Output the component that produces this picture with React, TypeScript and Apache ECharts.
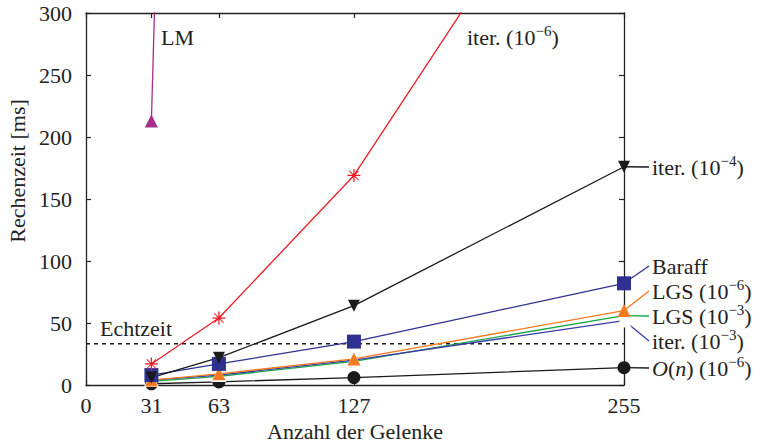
import React, { useEffect, useRef } from "react";
import * as echarts from "echarts";

// ---- data ----
const xTicks = [0, 31, 63, 127, 255];
const joints = [31, 63, 127, 255];
const lmJoints = [31, 63];
const lmValues = [213, 2150];
const iter6Values = [17, 54, 169, 500];
const iter4Values = [6, 22, 64, 176];
const baraffValues = [8, 17, 35, 82];
const lgs6Values = [4, 9, 21, 60];
const lgs3Values = [3, 7, 19, 56];
const iter3Values = [4, 8, 20, 52];
const onValues = [1, 2.5, 6, 14];
const realtimeValue = 33.3;

const FONT = "Liberation Serif";
const TXT = "#222";
const FS = 22;

const C_LM = "#a3318a";
const C_RED = "#ec1c24";
const C_BLACK = "#1a1a1a";
const C_BARAFF = "#2e3192";
const C_ORANGE = "#f47b20";
const C_GREEN = "#1aa64a";
const C_BLUE = "#3a3aa8";

const ASTERISK =
  "path://M-1,-0.1L1,-0.1L1,0.1L-1,0.1Z M-0.1,-1L0.1,-1L0.1,1L-0.1,1Z M-0.76,-0.66L-0.66,-0.76L0.76,0.66L0.66,0.76Z M-0.66,0.76L-0.76,0.66L0.66,-0.76L0.76,-0.66Z";

const zip = (xs: number[], ys: number[]) => xs.map((x, i) => [x, ys[i]]);

const rich = {
  sup: { fontSize: 15, fontFamily: FONT, fill: TXT, verticalAlign: "top", lineHeight: 15 },
  it: { fontSize: FS, fontFamily: FONT, fill: TXT, fontStyle: "italic", lineHeight: 28 },
};

export default function App() {
  const ref = useRef<HTMLDivElement>(null);
  useEffect(() => {
    if (!ref.current) return;
    const chart = echarts.init(ref.current, undefined, { renderer: "svg" });
    const axisLine = { show: true, onZero: false, lineStyle: { color: TXT, width: 1.3 } };
    const lineSeries = (name: string, xs: number[], ys: number[], color: string, symbol: any, size: number, extra: any = {}) => ({
      name,
      type: "line",
      data: zip(xs, ys),
      symbol,
      symbolSize: size,
      showSymbol: symbol !== "none",
      clip: true,
      lineStyle: { color, width: 1.3 },
      itemStyle: { color },
      z: 3,
      ...extra,
    });
    chart.setOption({
      animation: false,
      grid: { left: 86, right: 148, top: 13, bottom: 58, containLabel: false, outerBoundsMode: "none" },
      xAxis: [
        {
          type: "value",
          min: 0,
          max: 255,
          position: "bottom",
          axisLine,
          axisTick: { show: true, inside: true, length: 5, customValues: xTicks, lineStyle: { color: TXT, width: 1.2 } },
          axisLabel: { customValues: xTicks, fontSize: FS, fontFamily: FONT, color: TXT, margin: 9 },
          splitLine: { show: false },
          name: "Anzahl der Gelenke",
          nameLocation: "middle",
          nameGap: 33,
          nameTextStyle: { fontSize: FS, fontFamily: FONT, color: TXT },
        },
        {
          type: "value",
          min: 0,
          max: 255,
          position: "top",
          axisLine,
          axisTick: { show: true, inside: true, length: 5, customValues: xTicks, lineStyle: { color: TXT, width: 1.2 } },
          axisLabel: { show: false },
          splitLine: { show: false },
        },
      ],
      yAxis: [
        {
          type: "value",
          min: 0,
          max: 300,
          interval: 50,
          position: "left",
          axisLine,
          axisTick: { show: true, inside: true, length: 5, lineStyle: { color: TXT, width: 1.2 } },
          axisLabel: { fontSize: FS, fontFamily: FONT, color: TXT, margin: 14 },
          splitLine: { show: false },
        },
        {
          type: "value",
          min: 0,
          max: 300,
          interval: 50,
          position: "right",
          axisLine,
          axisTick: { show: true, inside: true, length: 5, lineStyle: { color: TXT, width: 1.2 } },
          axisLabel: { show: false },
          splitLine: { show: false },
        },
      ],
      series: [
        {
          name: "Echtzeit",
          type: "line",
          data: [[0, realtimeValue], [255, realtimeValue]],
          symbol: "none",
          lineStyle: { color: C_BLACK, width: 1.5, type: [4, 4] },
          z: 2,
        },
        lineSeries("O(n)", joints, onValues, C_BLACK, "circle", 13),
        lineSeries("LGS 1e-3", joints, lgs3Values, C_GREEN, "none", 0),
        lineSeries("iter 1e-3", joints, iter3Values, C_BLUE, "emptyTriangle", 12, {
          itemStyle: { color: "#fff", borderColor: C_BLUE, borderWidth: 1.5 },
        }),
        lineSeries("LGS 1e-6", joints, lgs6Values, C_ORANGE, "triangle", 13),
        lineSeries("Baraff", joints, baraffValues, C_BARAFF, "rect", 14),
        lineSeries("iter 1e-4", joints, iter4Values, C_BLACK, "triangle", 12, { symbolRotate: 180 }),
        lineSeries("iter 1e-6", joints, iter6Values, C_RED, ASTERISK, 13),
        lineSeries("LM", lmJoints, lmValues, C_LM, "triangle", 13),
      ],
    });

    const px = (x: number, y: number) =>
      chart.convertToPixel({ xAxisIndex: 0, yAxisIndex: 0 }, [x, y]) as number[];
    const last = (a: number[]) => a[a.length - 1];
    const xLast = last(joints);

    const labelX = 652;
    const rightLabels = [
      { text: "iter. (10{sup|−4})", y: 167, color: C_BLACK, v: last(iter4Values) },
      { text: "Baraff", y: 266, color: C_BARAFF, v: last(baraffValues) },
      { text: "LGS (10{sup|−6})", y: 291, color: C_ORANGE, v: last(lgs6Values) },
      { text: "LGS (10{sup|−3})", y: 316, color: C_GREEN, v: last(lgs3Values) },
      { text: "iter. (10{sup|−3})", y: 341, color: C_BLUE, v: last(iter3Values) },
      { text: "{it|O}({it|n}) (10{sup|−6})", y: 368, color: C_BLACK, v: last(onValues) },
    ];

    const textStyle = (text: string, align: string = "left") => ({
      text,
      fontSize: FS,
      fontFamily: FONT,
      fill: TXT,
      lineHeight: 28,
      align,
      verticalAlign: "middle",
      rich,
    });

    const graphics: any[] = [];
    rightLabels.forEach((l) => {
      const p = px(xLast, l.v);
      graphics.push({
        type: "line",
        shape: { x1: p[0], y1: p[1], x2: labelX - 3, y2: l.y },
        style: { stroke: l.color, lineWidth: 1.3 },
        z: 1,
      });
      graphics.push({ type: "text", x: labelX, y: l.y, style: textStyle(l.text), z: 10 });
    });

    const rt = px(0, realtimeValue);
    graphics.push({ type: "text", x: rt[0] + 14, y: rt[1] - 15, style: textStyle("Echtzeit"), z: 10 });
    graphics.push({ type: "text", x: 161, y: 37, style: textStyle("LM"), z: 10 });
    graphics.push({ type: "text", x: 467, y: 37, style: textStyle("iter. (10{sup|−6})"), z: 10 });
    graphics.push({
      type: "text",
      x: 17,
      y: 171,
      rotation: Math.PI / 2,
      style: textStyle("Rechenzeit [ms]", "center"),
      z: 10,
    });

    chart.setOption({ graphic: graphics });

    return () => chart.dispose();
  }, []);
  return <div ref={ref} style={{ position: "absolute", left: 0, top: 0, width: 772, height: 443 }} />;
}
